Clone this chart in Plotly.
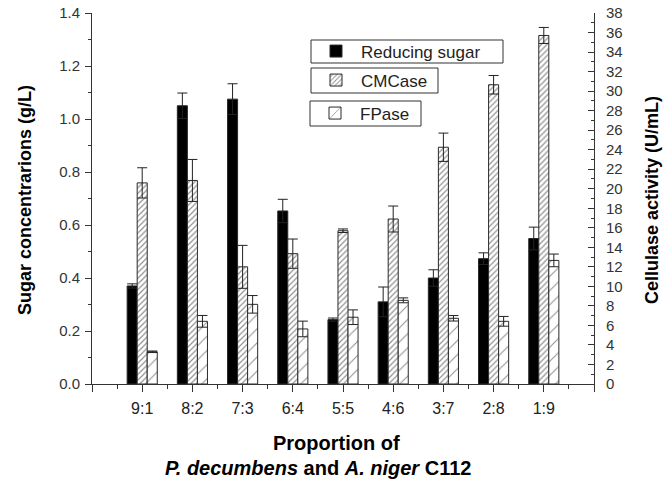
import plotly.graph_objects as go

categories = ["9:1", "8:2", "7:3", "6:4", "5:5", "4:6", "3:7", "2:8", "1:9"]
reducing_sugar = [0.37, 1.05, 1.075, 0.653, 0.243, 0.31, 0.40, 0.473, 0.549]
reducing_sugar_err = [0.008, 0.048, 0.058, 0.044, 0.006, 0.056, 0.031, 0.022, 0.043]
cmcase = [20.6, 20.85, 12.0, 13.35, 15.7, 16.9, 24.25, 30.65, 35.7]
cmcase_err = [1.55, 2.15, 2.2, 1.5, 0.18, 1.33, 1.45, 0.95, 0.82]
fpase = [3.3, 6.42, 8.16, 5.64, 6.84, 8.57, 6.73, 6.42, 12.66]
fpase_err = [0.08, 0.6, 0.9, 0.8, 0.75, 0.25, 0.28, 0.5, 0.65]

positions = list(range(1, len(categories) + 1))

L, R, T, B = 92, 70, 13, 97
W, H = 664, 481
pw, ph = W - L - R, H - T - B


def px_x(px):
    return (px - L) / pw


def px_y(py):
    return (H - B - py) / ph


edge = "#2a2a2a"
err_style = dict(type="data", visible=True, thickness=1, width=5, color="#222222")
font_family = "Liberation Sans, Arial, sans-serif"

fig = go.Figure()
fig.add_trace(go.Bar(
    x=positions, y=reducing_sugar, name="Reducing sugar",
    width=0.2, offset=-0.3,
    marker=dict(color="black", line=dict(color=edge, width=1)),
    error_y=dict(array=reducing_sugar_err, **err_style),
    yaxis="y", legend="legend", showlegend=True,
))
fig.add_trace(go.Bar(
    x=positions, y=cmcase, name="CMCase",
    width=0.2, offset=-0.1,
    marker=dict(color="white", line=dict(color=edge, width=1),
                pattern=dict(shape="/", size=4, solidity=0.3,
                             fgcolor="#222222", bgcolor="white")),
    error_y=dict(array=cmcase_err, **err_style),
    yaxis="y2", legend="legend2", showlegend=True,
))
fig.add_trace(go.Bar(
    x=positions, y=fpase, name="FPase",
    width=0.2, offset=0.1,
    marker=dict(color="white", line=dict(color=edge, width=1),
                pattern=dict(shape="/", size=10, solidity=0.1,
                             fgcolor="#222222", bgcolor="white")),
    error_y=dict(array=fpase_err, **err_style),
    yaxis="y2", legend="legend3", showlegend=True,
))

axis_color = "#333333"
ytick_font = dict(family=font_family, size=15, color="#333333")
xtick_font = dict(family=font_family, size=16, color="#222222")

legend_common = dict(
    xanchor="left", yanchor="middle",
    bgcolor="rgba(0,0,0,0)", borderwidth=0,
    font=dict(family=font_family, size=17, color="#222222"),
    itemwidth=40, tracegroupgap=0,
)

# legend frames (pixel boxes: left, top, right, bottom)
legend_boxes = [(311, 40, 503, 63), (311, 68, 438, 93), (310, 101, 421, 126)]
shapes = [
    dict(type="rect", xref="paper", yref="paper",
         x0=px_x(b[0]), x1=px_x(b[2]), y0=px_y(b[3]), y1=px_y(b[1]),
         line=dict(color="#333333", width=1), fillcolor="white", layer="above")
    for b in legend_boxes
]

fig.update_layout(
    width=W, height=H,
    margin=dict(l=L, r=R, t=T, b=B, autoexpand=False),
    paper_bgcolor="white", plot_bgcolor="white",
    barmode="overlay", showlegend=True,
    font=dict(family=font_family),
    shapes=shapes,
    xaxis=dict(
        range=[0, 10], automargin=False,
        tickmode="array",
        tickvals=[0] + positions + [10],
        ticktext=[""] + categories + [""],
        ticks="outside", ticklen=7, tickwidth=1, tickcolor=axis_color,
        minor=dict(tickmode="linear", tick0=0.5, dtick=1, ticks="outside",
                   ticklen=4, tickcolor=axis_color),
        showline=True, linecolor=axis_color, linewidth=1,
        showgrid=False, zeroline=False,
        tickfont=xtick_font, ticklabelstandoff=3,
    ),
    yaxis=dict(
        range=[0, 1.4], dtick=0.2, tick0=0, tickformat=".1f", automargin=False,
        ticks="outside", ticklen=6, tickwidth=1, tickcolor=axis_color,
        minor=dict(dtick=0.1, ticks="outside", ticklen=3, tickcolor=axis_color),
        showline=True, linecolor=axis_color, linewidth=1,
        showgrid=False, zeroline=False,
        tickfont=ytick_font, ticklabelstandoff=2,
    ),
    yaxis2=dict(
        range=[0, 38], dtick=2, tick0=0, automargin=False,
        overlaying="y", side="right",
        ticks="inside", ticklen=6, tickwidth=1, tickcolor=axis_color,
        minor=dict(dtick=1, ticks="inside", ticklen=3, tickcolor=axis_color),
        showline=True, linecolor=axis_color, linewidth=1,
        showgrid=False, zeroline=False,
        tickfont=ytick_font, ticklabelstandoff=8,
    ),
    legend=dict(x=px_x(311), y=px_y(51.5), **legend_common),
    legend2=dict(x=px_x(311), y=px_y(80.5), **legend_common),
    legend3=dict(x=px_x(310), y=px_y(113.5), **legend_common),
)

title_font = dict(family=font_family, size=18, color="black")
xtitle_font = dict(family=font_family, size=20, color="black")
fig.add_annotation(
    text="<b>Sugar concentrarions (g/L)</b>", textangle=-90,
    xref="paper", yref="paper", x=px_x(25), y=px_y(200),
    xanchor="center", yanchor="middle", showarrow=False, font=title_font,
)
fig.add_annotation(
    text="<b>Cellulase activity (U/mL)</b>", textangle=-90,
    xref="paper", yref="paper", x=px_x(652), y=px_y(200),
    xanchor="center", yanchor="middle", showarrow=False, font=title_font,
)
fig.add_annotation(
    text="<b>Proportion of</b>",
    xref="paper", yref="paper", x=px_x(336), y=px_y(443),
    xanchor="center", yanchor="middle", showarrow=False, font=xtitle_font,
)
fig.add_annotation(
    text="<b><i>P. decumbens</i> and <i>A. niger</i> C112</b>",
    xref="paper", yref="paper", x=px_x(318), y=px_y(468),
    xanchor="center", yanchor="middle", showarrow=False, font=xtitle_font,
)

fig.write_html("out.html")
